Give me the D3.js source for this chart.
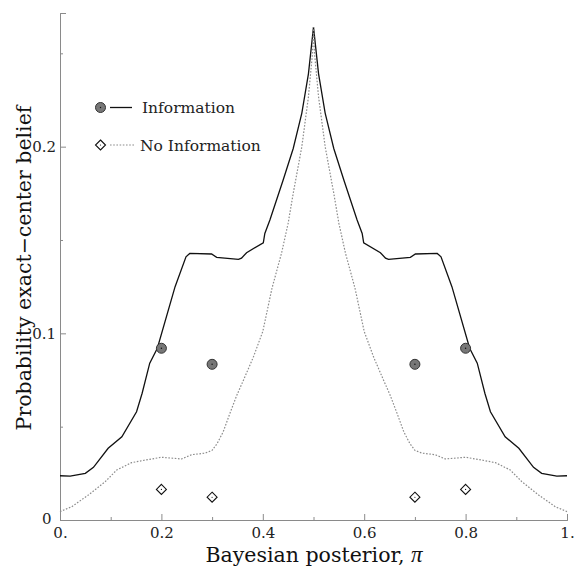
<!DOCTYPE html>
<html><head><meta charset="utf-8">
<script src="https://cdn.jsdelivr.net/npm/d3@7"></script>
<style>body{margin:0;background:#fff}</style>
</head><body>
<svg id="c" width="574" height="568"></svg>
<script>
// Information curve (solid)
const infoX = [0,0.02,0.05,0.066,0.095,0.122,0.151,0.162,0.177,0.192,0.227,0.2485,0.256,0.299,0.309,0.352,0.358,0.368,0.401,0.404,0.414,0.44,0.46,0.477,0.49,0.5,
  0.51,0.523,0.54,0.56,0.586,0.596,0.599,0.632,0.642,0.648,0.691,0.701,0.744,0.7515,0.773,0.808,0.823,0.838,0.849,0.878,0.905,0.934,0.95,0.98,1];
const infoY = [0.0237,0.0235,0.0250,0.0282,0.0384,0.0446,0.0580,0.0679,0.0840,0.0920,0.1250,0.1410,0.1428,0.1425,0.1407,0.1396,0.1403,0.1432,0.1485,0.1535,0.1607,0.182,0.199,0.218,0.239,0.264,
  0.239,0.218,0.199,0.182,0.1607,0.1535,0.1485,0.1432,0.1403,0.1396,0.1407,0.1425,0.1428,0.1410,0.1250,0.0920,0.0840,0.0679,0.0580,0.0446,0.0384,0.0282,0.0250,0.0235,0.0237];
// No Information curve (dotted)
const noInfoX = [0,0.023,0.056,0.089,0.112,0.141,0.168,0.2,0.24,0.26,0.286,0.3,0.31,0.322,0.335,0.349,0.362,0.381,0.4,0.418,0.437,0.45,0.46,0.477,0.49,0.498,0.5,
  0.502,0.51,0.523,0.54,0.55,0.563,0.582,0.6,0.619,0.638,0.651,0.665,0.678,0.69,0.7,0.714,0.74,0.76,0.8,0.832,0.859,0.888,0.911,0.944,0.977,1];
const noInfoY = [0.0045,0.0071,0.0134,0.0205,0.0268,0.0307,0.0321,0.0336,0.0327,0.0350,0.0358,0.0373,0.0410,0.0473,0.0570,0.0670,0.0750,0.0870,0.1010,0.1240,0.1430,0.1590,0.1750,0.2000,0.2267,0.2500,0.264,
  0.2500,0.2267,0.2000,0.1750,0.1590,0.1430,0.1240,0.1010,0.0870,0.0750,0.0670,0.0570,0.0473,0.0410,0.0373,0.0358,0.0350,0.0327,0.0336,0.0321,0.0307,0.0268,0.0205,0.0134,0.0071,0.0045];
// Empirical points
const ptX = [0.2,0.3,0.7,0.8];
const infoPts = [0.092,0.0834,0.0834,0.092];
const noInfoPts = [0.0164,0.0122,0.0122,0.0164];
const xMajor = [0,0.2,0.4,0.6,0.8,1];
const xLabels = ["0.","0.2","0.4","0.6","0.8","1."];
const yMajor = [0,0.1,0.2];
const yLabels = ["0","0.1","0.2"];
const xMinor = [0.1,0.3,0.5,0.7,0.9];
const yMinor = [0.05,0.15,0.25];

const svg = d3.select("#c");
const font = "DejaVu Serif";
const x = d3.scaleLinear().domain([0,1]).range([60,567]);
const y = d3.scaleLinear().domain([0,0.2716]).range([520,13]);
const axisCol = "#8a8a8a";

// axes
const gx = svg.append("g").attr("transform","translate(0,520)")
  .call(d3.axisBottom(x).tickValues(xMajor).tickSize(-6).tickFormat((d,i)=>xLabels[i]).tickPadding(7));
const gxm = svg.append("g").attr("transform","translate(0,520)")
  .call(d3.axisBottom(x).tickValues(xMinor).tickSize(-3).tickFormat(""));
const gy = svg.append("g").attr("transform","translate(60,0)")
  .call(d3.axisLeft(y).tickValues(yMajor).tickSize(-6).tickFormat((d,i)=>yLabels[i]).tickPadding(4));
const gym = svg.append("g").attr("transform","translate(60,0)")
  .call(d3.axisLeft(y).tickValues(yMinor).tickSize(-3).tickFormat(""));
[gx,gxm,gy,gym].forEach(g=>{
  g.select(".domain").attr("stroke",axisCol).attr("stroke-width",1);
  g.selectAll(".tick line").attr("stroke",axisCol);
  g.selectAll("text").attr("font-family",font).attr("font-size",15).attr("fill","#222");
});
gy.selectAll(".tick text").filter(d=>d===0).attr("dx","-0.3em").attr("dy","0.2em");

const line = d3.line().x(d=>x(d[0])).y(d=>y(d[1]));
svg.append("path").datum(infoX.map((v,i)=>[v,infoY[i]]))
  .attr("d",line).attr("fill","none").attr("stroke","#111").attr("stroke-width",1.3);
svg.append("path").datum(noInfoX.map((v,i)=>[v,noInfoY[i]]))
  .attr("d",line).attr("fill","none").attr("stroke","#8c8c8c").attr("stroke-width",1.2).attr("stroke-dasharray","1.6,1.6");

function circleMark(g,cx,cy){
  g.append("circle").attr("cx",cx).attr("cy",cy).attr("r",5).attr("fill","#777").attr("stroke","#333").attr("stroke-width",1);
  g.append("circle").attr("cx",cx).attr("cy",cy).attr("r",0.7).attr("fill","#111");
}
function diamondMark(g,cx,cy){
  const s=5;
  g.append("path").attr("d",`M${cx},${cy-s}L${cx+s},${cy}L${cx},${cy+s}L${cx-s},${cy}Z`)
    .attr("fill","#fff").attr("stroke","#111").attr("stroke-width",1.1);
  g.append("circle").attr("cx",cx).attr("cy",cy).attr("r",0.6).attr("fill","#111");
}
const pts = svg.append("g");
ptX.forEach((v,i)=>circleMark(pts,x(v),y(infoPts[i])));
ptX.forEach((v,i)=>diamondMark(pts,x(v),y(noInfoPts[i])));

// legend
const lg = svg.append("g");
circleMark(lg,100.5,107.5);
lg.append("line").attr("x1",110).attr("x2",132).attr("y1",107.5).attr("y2",107.5).attr("stroke","#111").attr("stroke-width",1.3);
lg.append("text").attr("x",142).attr("y",113).text("Information").attr("font-family",font).attr("font-size",15.5).attr("fill","#222");
diamondMark(lg,100.5,145);
lg.append("line").attr("x1",110).attr("x2",135).attr("y1",145).attr("y2",145).attr("stroke","#8c8c8c").attr("stroke-width",1.2).attr("stroke-dasharray","1.6,1.6");
lg.append("text").attr("x",140).attr("y",150.5).text("No Information").attr("font-family",font).attr("font-size",15.5).attr("fill","#222");

// axis titles
const xt = svg.append("text").attr("x",314).attr("y",562).attr("text-anchor","middle")
  .attr("font-family",font).attr("font-size",20.5).attr("fill","#111");
xt.append("tspan").text("Bayesian posterior, ");
xt.append("tspan").attr("font-family","Liberation Serif").attr("font-style","italic").attr("font-size",23).text("π");
svg.append("text").attr("transform","translate(31,268) rotate(-90)").attr("text-anchor","middle")
  .attr("font-family",font).attr("font-size",20.5).attr("fill","#111").text("Probability exact−center belief");
</script>
</body></html>
